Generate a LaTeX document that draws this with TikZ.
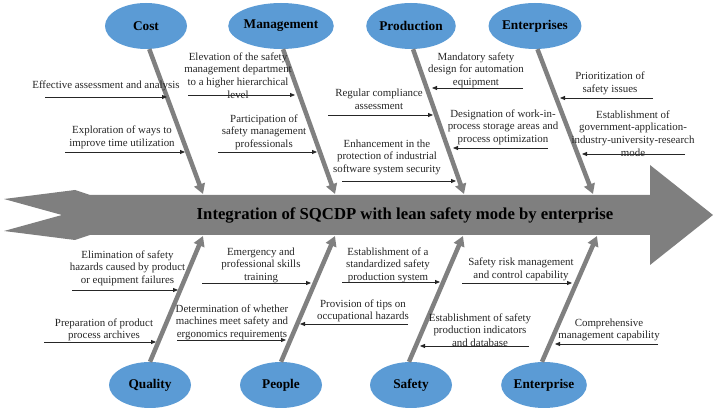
\documentclass[tikz,border=0pt]{standalone}
\usepackage{fontspec}
\setmainfont{Liberation Serif}
\usetikzlibrary{arrows.meta,shapes.geometric}
\definecolor{catblue}{HTML}{5B9BD5}
\definecolor{bonegray}{HTML}{808080}
\definecolor{spinegray}{HTML}{7F7F7F}
\begin{document}
\begin{tikzpicture}[x=1pt,y=-1pt,
  cat/.style={ellipse, fill=catblue, minimum width=82pt, minimum height=46pt, inner sep=0pt, font=\fontsize{13.3}{15}\selectfont\bfseries},
  lbl/.style={align=center, inner sep=0pt, font=\fontsize{10.9}{12.6}\selectfont, text=black!85},
  bone/.style={draw=bonegray, line width=4.5pt, -{Triangle[length=10pt,width=11pt]}},
  feed/.style={draw=black!85, line width=0.8pt, -{Triangle[length=5pt,width=4pt]}}
]
\useasboundingbox (0,0) rectangle (716,411);
% spine
\fill[spinegray] (4,199) -- (75,190) -- (90,195) -- (650,195) -- (650,165) -- (713,215) -- (650,265) -- (650,235) -- (90,235) -- (75,240) -- (4,231) -- (62,215) -- cycle;
\node[font=\fontsize{16.7}{18}\selectfont\bfseries, inner sep=0pt] (main) at (405,215) {Integration of SQCDP with lean safety mode by enterprise};
% categories
\node[cat] (cost) at (146,26) {Cost};
\node[cat] (mgmt) at (281,26) {Management};
\node[cat] (prod) at (411,26) {Production};
\node[cat] (ents) at (535,26) {Enterprises};
\node[cat] (qual) at (150,385) {Quality};
\node[cat] (peop) at (281,385) {People};
\node[cat] (safe) at (411,385) {Safety};
\node[cat] (entr) at (544,385) {Enterprise};
% bone ends
\coordinate (costE) at (203,194);
\coordinate (mgmtE) at (335,194);
\coordinate (prodE) at (464,194);
\coordinate (entsE) at (593,194);
\coordinate (qualE) at (203,236);
\coordinate (peopE) at (335,236);
\coordinate (safeE) at (463,236);
\coordinate (entrE) at (597,236);
\draw[bone] (cost.-82) -- (costE);
\draw[bone] (mgmt.-85) -- (mgmtE);
\draw[bone] (prod.-85) -- (prodE);
\draw[bone] (ents.-84) -- (entsE);
\draw[bone] (qual.north) -- (qualE);
\draw[bone] (peop.north) -- (peopE);
\draw[bone] (safe.95) -- (safeE);
\draw[bone] (entr.95) -- (entrE);
% labels
\node[lbl] (t1) at (106,86) {Effective assessment and analysis};
\node[lbl] (t2) at (122,137.5) {Exploration of ways to\\improve time utilization};
\node[lbl] (t3) at (238,75.5) {Elevation of the safety\\management department\\to a higher hierarchical\\level};
\node[lbl] (t4) at (264,132) {Participation of\\safety management\\professionals};
\node[lbl] (t5) at (379,99) {Regular compliance\\assessment};
\node[lbl] (t6) at (387,157) {Enhancement in the\\protection of industrial\\software system security};
\node[lbl] (t7) at (476,70) {Mandatory safety\\design for automation\\equipment};
\node[lbl] (t8) at (503,127) {Designation of work-in-\\process storage areas and\\process optimization};
\node[lbl] (t9) at (610,83.5) {Prioritization of\\safety issues};
\node[lbl] (t10) at (633,133.5) {Establishment of\\government-application-\\industry-university-research\\mode};
\node[lbl] (t11) at (127.5,268) {Elimination of safety\\hazards caused by product\\or equipment failures};
\node[lbl] (t12) at (104,330) {Preparation of product\\process archives};
\node[lbl] (t13) at (261,265) {Emergency and\\professional skills\\training};
\node[lbl] (t14) at (232,322) {Determination of whether\\machines meet safety and\\ergonomics requirements};
\node[lbl] (t15) at (388,265) {Establishment of a\\standardized safety\\production system};
\node[lbl] (t16) at (363,311) {Provision of tips on\\occupational hazards};
\node[lbl] (t17) at (521,269.5) {Safety risk management\\and control capability};
\node[lbl] (t18) at (480,330) {Establishment of safety\\production indicators\\and database};
\node[lbl] (t19) at (609,330) {Comprehensive\\management capability};
% feed arrows
\coordinate (a1s) at (45,97);   \coordinate (a1e) at (167,97);
\coordinate (a2s) at (65,152);  \coordinate (a2e) at (185,152);
\coordinate (a3s) at (188,95);  \coordinate (a3e) at (295,95);
\coordinate (a4s) at (218,152); \coordinate (a4e) at (317,152);
\coordinate (a5s) at (328,115); \coordinate (a5e) at (433,115);
\coordinate (a6s) at (342,181); \coordinate (a6e) at (456,181);
\coordinate (a7s) at (523,88);  \coordinate (a7e) at (432,88);
\coordinate (a8s) at (548,148); \coordinate (a8e) at (453,148);
\coordinate (a9s) at (653,98);  \coordinate (a9e) at (560,98);
\coordinate (a10s) at (685,154); \coordinate (a10e) at (582,154);
\coordinate (a11s) at (72,290);  \coordinate (a11e) at (178,290);
\coordinate (a12s) at (44,342);  \coordinate (a12e) at (156,342);
\coordinate (a13s) at (202,283); \coordinate (a13e) at (311,283);
\coordinate (a14s) at (177,340); \coordinate (a14e) at (286,340);
\coordinate (a15s) at (342,282); \coordinate (a15e) at (440,282);
\coordinate (a16s) at (408,324); \coordinate (a16e) at (300,324);
\coordinate (a17s) at (462,283); \coordinate (a17e) at (572,283);
\coordinate (a18s) at (529,346); \coordinate (a18e) at (420,346);
\coordinate (a19s) at (658,344); \coordinate (a19e) at (555,344);
\foreach \i in {1,...,19} { \draw[feed] (a\i s) -- (a\i e); }
\end{tikzpicture}
\end{document}
